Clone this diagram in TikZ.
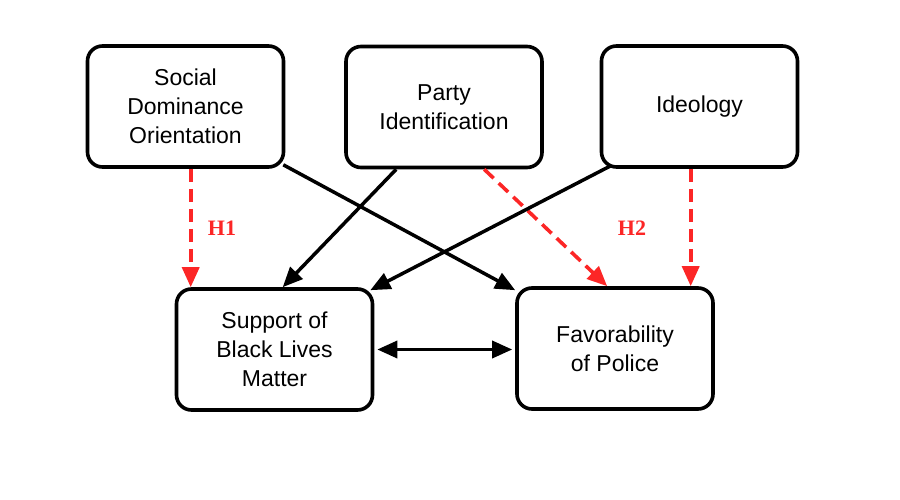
\documentclass[tikz,border=0pt]{standalone}
\usepackage{fontspec}
\setmainfont{Liberation Sans}
\newfontfamily\hfont{Liberation Serif}
\usetikzlibrary{arrows.meta,calc}
\definecolor{hred}{RGB}{252,38,38}
\tikzset{
  box/.style={draw=black, line width=3.6pt, rounded corners=15pt, minimum width=196pt, minimum height=121pt, align=center, inner sep=0pt, font=\fontsize{23}{29}\selectfont},
  blackarrow/.style={draw=black, line width=3.5pt, -{Triangle[length=20pt,width=17pt]}},
  redarrow/.style={draw=hred, line width=3.6pt, dash pattern=on 13pt off 7pt, -{Triangle[length=20pt,width=17pt]}},
  hlabel/.style={text=hred, font=\hfont\bfseries\fontsize{22}{24}\selectfont}
}
\begin{document}
\begin{tikzpicture}[x=1pt,y=-1pt]
\useasboundingbox (0,0) rectangle (900,500);
\node[box] (sdo) at (185.5,106.5) {Social\\Dominance\\Orientation};
\node[box] (party) at (444,107) {Party\\Identification};
\node[box] (ideo) at (699.5,106.5) {Ideology};
\node[box] (blm) at (274.5,349.5) {Support of\\Black Lives\\Matter};
\node[box] (police) at (615,348.5) {Favorability\\of Police};
\coordinate (sdoR) at ($(sdo.south west)+(105,0)$);
\draw[redarrow] (sdoR) -- (sdoR |- blm.north);
\draw[blackarrow] ($(sdo.south east)+(-2,-4)$) -- ($(police.north west)+(0,4)$);
\draw[blackarrow] ($(party.south west)+(52,0)$) -- ($(blm.north west)+(108,0)$);
\draw[redarrow] ($(party.south west)+(140,0)$) -- ($(police.north west)+(92,0)$);
\draw[blackarrow] ($(ideo.south west)+(11,-3)$) -- ($(blm.north east)+(-4,3)$);
\coordinate (ideoR) at ($(ideo.south west)+(91,0)$);
\draw[redarrow] (ideoR) -- (ideoR |- police.north);
\draw[draw=black, line width=3.5pt, {Triangle[length=20pt,width=17pt]}-{Triangle[length=20pt,width=17pt]}] ($(blm.east)+(3,0)$) -- ($(blm.east -| police.west)+(-3,0)$);
\node[hlabel] (h1) at (222,228) {H1};
\node[hlabel] (h2) at (632,228) {H2};
\end{tikzpicture}
\end{document}
